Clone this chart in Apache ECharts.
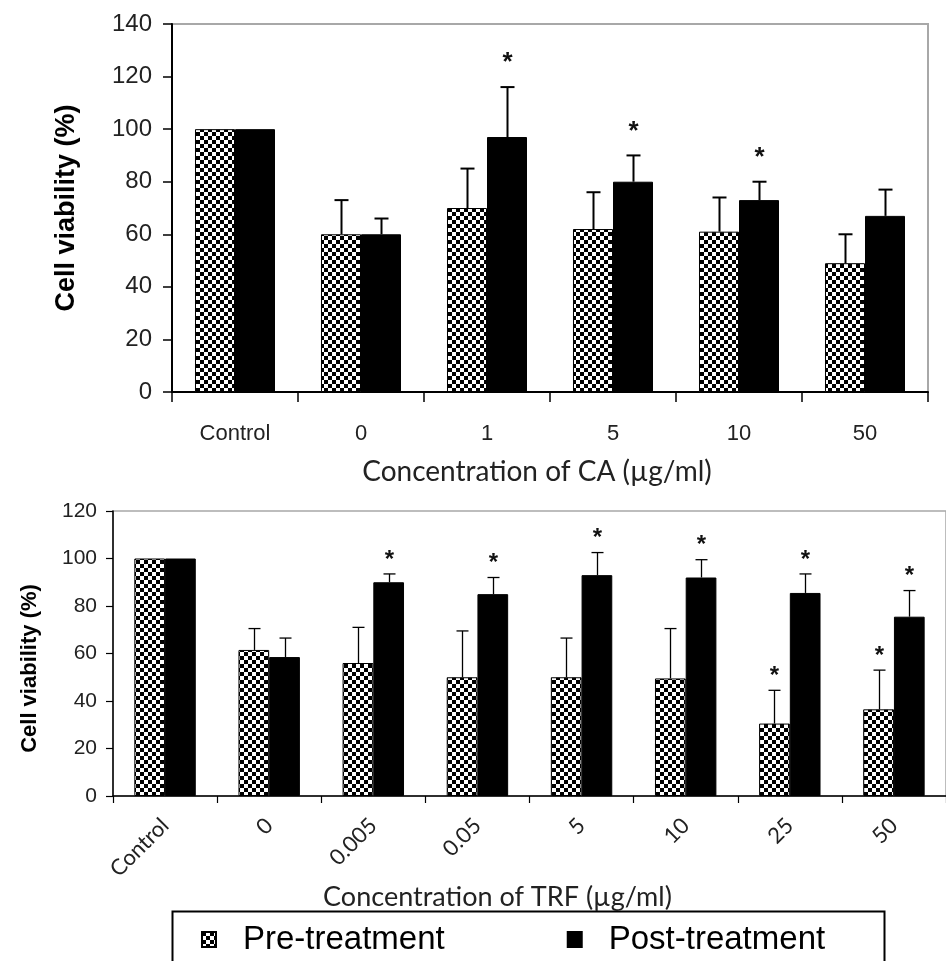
<!DOCTYPE html>
<html><head><meta charset="utf-8">
<script src="https://cdn.jsdelivr.net/npm/echarts@6/dist/echarts.min.js"></script>
<style>html,body{margin:0;padding:0;background:#fff}#c{width:946px;height:961px}</style>
</head><body><div id="c"></div>
<script>
// ---- Data: top chart (CA) ----
const caCategories = ['Control', '0', '1', '5', '10', '50'];
const caPre = [100, 60, 70, 62, 61, 49];
const caPreErr = [0, 13, 15, 14, 13, 11];
const caPost = [100, 60, 97, 80, 73, 67];
const caPostErr = [0, 6, 19, 10, 7, 10];
const caPreSig = [0, 0, 0, 0, 0, 0];
const caPostSig = [0, 0, 1, 1, 1, 0];
const caYTicks = [0, 140, 20];

// ---- Data: bottom chart (TRF) ----
const trfCategories = ['Control', '0', '0.005', '0.05', '5', '10', '25', '50'];
const trfPre = [100, 61.5, 56, 50, 50, 49.5, 30.5, 36.5];
const trfPreErr = [0, 9, 15, 19.5, 16.5, 21, 14, 16.5];
const trfPost = [100, 58.5, 90, 85, 93, 92, 85.5, 75.5];
const trfPostErr = [0, 8, 3.5, 7, 9.5, 7.5, 8, 11];
const trfPreSig = [0, 0, 0, 0, 0, 0, 1, 1];
const trfPostSig = [0, 0, 1, 1, 1, 1, 1, 1];
const trfYTicks = [0, 120, 20];

const seriesNames = ['Pre-treatment', 'Post-treatment'];

// checkerboard pattern
function makeChecker(cell) {
  const cv = document.createElement('canvas');
  cv.width = cell * 2; cv.height = cell * 2;
  const g = cv.getContext('2d');
  g.fillStyle = '#fff'; g.fillRect(0, 0, cell * 2, cell * 2);
  g.fillStyle = '#000';
  g.fillRect(0, 0, cell, cell);
  g.fillRect(cell, cell, cell, cell);
  return cv;
}
const checker = { image: makeChecker(4), repeat: 'repeat' };

const NARROW = '"Liberation Sans Narrow", "Arial Narrow", "Liberation Sans", Arial, sans-serif';
const SANS = '"Liberation Sans", Arial, sans-serif';
const CAL = 'Lato, "Open Sans", sans-serif';

function errSeries(name, gridIdx, means, errs, sigs, side, gapFrac, capW, lw, starSize, starOff) {
  return {
    type: 'custom', name: name + '_err', xAxisIndex: gridIdx, yAxisIndex: gridIdx, z: 5,
    silent: true, legendHoverLink: false,
    data: means.map((m, i) => [i, m, errs[i], sigs[i]]),
    encode: { x: 0, y: 1 },
    renderItem: function (params, api) {
      const idx = api.value(0), m = api.value(1), e = api.value(2), s = api.value(3);
      const band = api.size([1, 0])[0];
      const barW = band * (1 - gapFrac) / 2;
      const base = api.coord([idx, m]);
      const top = api.coord([idx, m + e]);
      const x = Math.round(base[0] + side * barW / 2) + 0.5;
      const children = [];
      if (e > 0) {
        children.push({ type: 'line', shape: { x1: x, y1: base[1], x2: x, y2: top[1] }, style: { stroke: '#000', lineWidth: lw } });
        children.push({ type: 'line', shape: { x1: x - capW / 2, y1: top[1], x2: x + capW / 2, y2: top[1] }, style: { stroke: '#000', lineWidth: lw } });
      }
      if (s) {
        children.push({ type: 'text', x: x, y: top[1] - starOff, style: { text: '*', fill: '#111', font: 'bold ' + starSize + 'px ' + SANS, align: 'center', verticalAlign: 'middle' } });
      }
      return { type: 'group', children: children };
    }
  };
}

const TOP_GAP = 0.365, BOT_GAP = 0.41;

const option = {
  animation: false,
  backgroundColor: '#fff',
  grid: [
    { left: 172, top: 24, width: 756, height: 368, show: true, borderColor: '#a8a8a8', borderWidth: 2 },
    { left: 113, top: 511, width: 842, height: 285, show: true, borderColor: '#a8a8a8', borderWidth: 1.5 }
  ],
  xAxis: [
    {
      type: 'category', gridIndex: 0, data: caCategories,
      axisLine: { lineStyle: { color: '#000', width: 2 } },
      axisTick: { show: true, length: 10, lineStyle: { color: '#000', width: 1.5 } },
      axisLabel: { margin: 31, color: '#222', fontFamily: NARROW, fontSize: 22 },
      name: 'Concentration of CA (µg/ml)', nameLocation: 'middle', nameGap: 66,
      nameTextStyle: { fontFamily: CAL, fontSize: 28, color: '#222', padding: [0, 26, 0, 0] }
    },
    {
      type: 'category', gridIndex: 1, data: trfCategories,
      axisLine: { lineStyle: { color: '#000', width: 1.5 } },
      axisTick: { show: true, length: 7, lineStyle: { color: '#000', width: 1.2 } },
      axisLabel: { margin: 26, rotate: 45, color: '#222', fontFamily: CAL, fontSize: 22 },
      name: 'Concentration of TRF (µg/ml)', nameLocation: 'middle', nameGap: 86,
      nameTextStyle: { fontFamily: CAL, fontSize: 27, color: '#222', padding: [0, 64, 0, 0] }
    }
  ],
  yAxis: [
    {
      type: 'value', gridIndex: 0, min: caYTicks[0], max: caYTicks[1], interval: caYTicks[2],
      splitLine: { show: false },
      axisLine: { show: true, lineStyle: { color: '#000', width: 2 } },
      axisTick: { show: true, length: 9, lineStyle: { color: '#000', width: 1.5 } },
      axisLabel: { margin: 20, color: '#222', fontFamily: NARROW, fontSize: 24 },
      name: 'Cell viability (%)', nameLocation: 'middle', nameGap: 92,
      nameTextStyle: { fontFamily: SANS, fontWeight: 'bold', fontSize: 27, color: '#000' }
    },
    {
      type: 'value', gridIndex: 1, min: trfYTicks[0], max: trfYTicks[1], interval: trfYTicks[2],
      splitLine: { show: false },
      axisLine: { show: true, lineStyle: { color: '#000', width: 1.5 } },
      axisTick: { show: true, length: 7, lineStyle: { color: '#000', width: 1.2 } },
      axisLabel: { margin: 16, color: '#222', fontFamily: SANS, fontSize: 21 },
      name: 'Cell viability (%)', nameLocation: 'middle', nameGap: 72,
      nameTextStyle: { fontFamily: SANS, fontWeight: 'bold', fontSize: 22, color: '#000', padding: [0, 30, 0, 0] }
    }
  ],
  legend: {
    data: seriesNames, left: 196, top: 918, itemWidth: 14, itemHeight: 15, itemGap: 122, icon: 'rect',
    textStyle: { fontFamily: NARROW, fontSize: 33, color: '#000', padding: [0, 0, 0, 22] },
    selectedMode: false
  },
  graphic: [
    { type: 'rect', left: 170, top: 909, shape: { width: 712, height: 64 }, style: { fill: 'none', stroke: '#000', lineWidth: 2 }, z: -1 }
  ],
  series: [
    { type: 'bar', name: seriesNames[0], xAxisIndex: 0, yAxisIndex: 0, data: caPre, barGap: '0%', barCategoryGap: (TOP_GAP * 100) + '%',
      itemStyle: { color: checker, borderColor: '#000', borderWidth: 1 } },
    { type: 'bar', name: seriesNames[1], xAxisIndex: 0, yAxisIndex: 0, data: caPost, barGap: '0%', barCategoryGap: (TOP_GAP * 100) + '%',
      itemStyle: { color: '#000', borderColor: '#000', borderWidth: 1 } },
    { type: 'bar', name: seriesNames[0], xAxisIndex: 1, yAxisIndex: 1, data: trfPre, barGap: '0%', barCategoryGap: (BOT_GAP * 100) + '%',
      itemStyle: { color: checker, borderColor: '#000', borderWidth: 1 } },
    { type: 'bar', name: seriesNames[1], xAxisIndex: 1, yAxisIndex: 1, data: trfPost, barGap: '0%', barCategoryGap: (BOT_GAP * 100) + '%',
      itemStyle: { color: '#000', borderColor: '#000', borderWidth: 1 } },
    errSeries('ca_pre', 0, caPre, caPreErr, caPreSig, -1, TOP_GAP, 14, 2, 26, 24),
    errSeries('ca_post', 0, caPost, caPostErr, caPostSig, 1, TOP_GAP, 14, 2, 26, 24),
    errSeries('trf_pre', 1, trfPre, trfPreErr, trfPreSig, -1, BOT_GAP, 12, 1.3, 24, 14),
    errSeries('trf_post', 1, trfPost, trfPostErr, trfPostSig, 1, BOT_GAP, 12, 1.3, 24, 14)
  ]
};
const chart = echarts.init(document.getElementById('c'), null, { renderer: 'canvas' });
chart.setOption(option);
</script>
</body></html>
